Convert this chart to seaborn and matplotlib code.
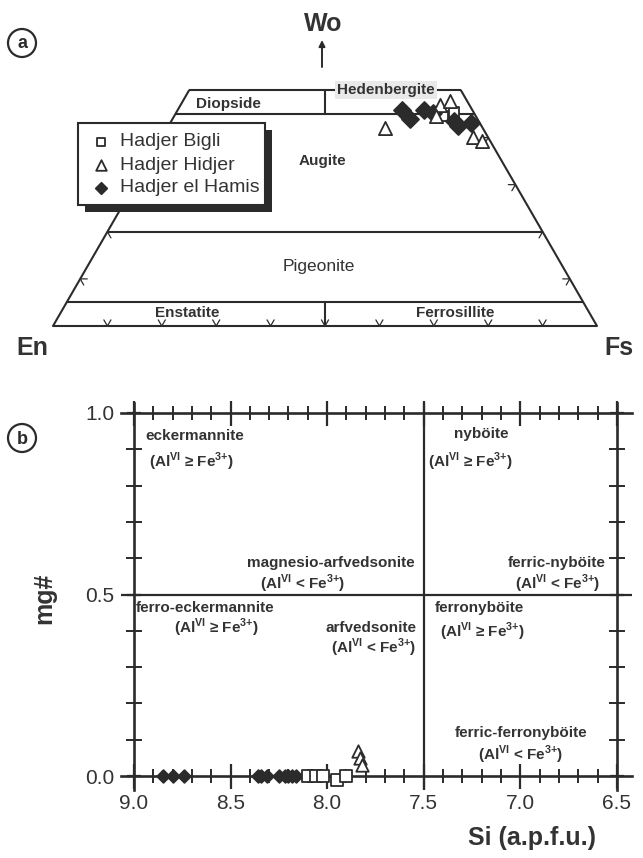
import numpy as np
import pandas as pd
import matplotlib
matplotlib.use("Agg")
import matplotlib.pyplot as plt
from matplotlib.patches import Rectangle, Ellipse
from matplotlib.ticker import MultipleLocator, FixedLocator, FormatStrFormatter
import seaborn as sns

# ---------------- data ----------------
localities = ["Hadjer Bigli", "Hadjer Hidjer", "Hadjer el Hamis"]

# clinopyroxene end-member proportions (mol %), En = 100 - Wo - Fs
px_bigli_wo = [45.4, 44.6]
px_bigli_fs = [51.0, 49.4]
px_hidjer_wo = [42.0, 46.9, 47.8, 44.6, 40.1, 39.3]
px_hidjer_fs = [40.0, 47.7, 49.1, 48.1, 57.2, 59.2]
px_hamis_wo = [45.85, 43.9, 45.85, 45.2, 43.5, 42.45, 43.1]
px_hamis_fs = [41.2, 43.7, 45.3, 47.2, 52.0, 53.2, 55.3]

# amphibole Si (a.p.f.u.) and mg#
am_bigli_si = [8.10, 8.06, 8.02, 7.95, 7.90]
am_bigli_mg = [0.0, 0.0, 0.0, -0.01, 0.0]
am_hidjer_si = [7.84, 7.83, 7.82]
am_hidjer_mg = [0.07, 0.05, 0.03]
am_hamis_si = [8.85, 8.80, 8.74, 8.36, 8.34, 8.31, 8.25, 8.22, 8.20, 8.18, 8.16]
am_hamis_mg = [0.0, 0.0, 0.0, 0.0, 0.0, 0.0, 0.0, 0.0, 0.0, 0.0, 0.0]

# pyroxene field boundaries (Wo %) and tick positions
wo_lines = [0, 5, 20, 45, 50]
base_ticks = [10, 20, 30, 40, 50, 60, 70, 80, 90]
side_ticks = [10, 20, 30, 40]

# amphibole axis ticks
si_ticks = [9.0, 8.5, 8.0, 7.5, 7.0, 6.5]
mg_ticks = [0.0, 0.5, 1.0]

# ---------------- style ----------------
sns.set_theme(style="white")
plt.rcParams["font.family"] = ["Liberation Sans", "DejaVu Sans"]
plt.rcParams["mathtext.fontset"] = "custom"
plt.rcParams["mathtext.rm"] = "Liberation Sans"
plt.rcParams["mathtext.bf"] = "Liberation Sans:bold"
INK = "#2b2b2b"
TXT = "#333333"
NARROW = ["Liberation Sans Narrow", "Liberation Sans"]

STY = {
    "Hadjer Bigli": dict(marker="s", fc="white"),
    "Hadjer Hidjer": dict(marker="^", fc="white"),
    "Hadjer el Hamis": dict(marker="D", fc=INK),
}
SIZE_T = {"Hadjer Bigli": 50, "Hadjer Hidjer": 90, "Hadjer el Hamis": 75}
SIZE_B = {"Hadjer Bigli": 70, "Hadjer Hidjer": 80, "Hadjer el Hamis": 42}

FW, FH = 643, 858
fig = plt.figure(figsize=(FW / 100, FH / 100), dpi=100)

# ---------------- (a) pyroxene quadrilateral ----------------
S = 5.44  # pixels per composition unit
X0, YB = 53, 326
axt = fig.add_axes([0, 480 / FH, 1, 378 / FH])
axt.set_xlim(-X0 / S, (FW - X0) / S)
axt.set_ylim((480 - (FH - YB)) / S, (FH - (FH - YB)) / S)
axt.axis("off")

R3 = np.sqrt(3) / 2


def tern(wo, fs):
    wo = np.asarray(wo, float)
    fs = np.asarray(fs, float)
    return fs + wo / 2, wo * R3


def P(px, py):
    return (px - X0) / S, (YB - py) / S


lw = 1.5
# horizontal Wo boundaries
for w in wo_lines:
    axt.plot([w / 2, 100 - w / 2], [w * R3, w * R3], color=INK, lw=lw, solid_capstyle="butt", zorder=2)
# sides
axt.plot([0, 25], [0, 50 * R3], color=INK, lw=lw, zorder=2)
axt.plot([100, 75], [0, 50 * R3], color=INK, lw=lw, zorder=2)
# En = Fs dividers
axt.plot([50, 50], [45 * R3, 50 * R3], color=INK, lw=lw, zorder=2)
axt.plot([50, 50], [0, 5 * R3], color=INK, lw=lw, zorder=2)

# small chevron ticks
tl = 1.3
for t in base_ticks:
    axt.plot([t - tl * 0.5, t, t + tl * 0.5], [tl * R3, 0, tl * R3], color=INK, lw=0.9, zorder=2)
for w in side_ticks:
    xr, yr = 100 - w / 2, w * R3
    axt.plot([xr - tl, xr, xr - tl * 0.5], [yr, yr, yr - tl * R3], color=INK, lw=0.9, zorder=2)
    xl, yl = w / 2, w * R3
    axt.plot([xl + tl, xl, xl + tl * 0.5], [yl, yl, yl - tl * R3], color=INK, lw=0.9, zorder=2)

# field names
bold_kw = dict(fontsize=11, fontweight="bold", color=TXT, ha="center", va="center")
axt.text(*P(228, 104), "Diopside", **bold_kw, zorder=3)
axt.text(*P(386, 90), "Hedenbergite", **bold_kw, zorder=3,
         bbox=dict(boxstyle="square,pad=0.12", fc="#e9e9e9", ec="none"))
axt.text(*P(322, 161), "Augite", **bold_kw, zorder=3)
axt.text(*P(319, 266), "Pigeonite", fontsize=12.5, color=TXT, ha="center", va="center", zorder=3)
axt.text(*P(187, 313), "Enstatite", **bold_kw, zorder=3)
axt.text(*P(455, 313), "Ferrosillite", **bold_kw, zorder=3)

# apices
axt.text(*P(323, 24), "Wo", fontsize=18, fontweight="bold", color=TXT, ha="center", va="center")
axt.text(*P(32, 348), "En", fontsize=18, fontweight="bold", color=TXT, ha="center", va="center")
axt.text(*P(619, 348), "Fs", fontsize=18, fontweight="bold", color=TXT, ha="center", va="center")
axt.annotate("", xy=P(322, 40), xytext=P(322, 67),
             arrowprops=dict(arrowstyle="-|>", color=INK, lw=1.4, mutation_scale=9, shrinkA=0, shrinkB=0))

# data points
px_df = pd.concat([
    pd.DataFrame({"locality": "Hadjer Bigli", "Wo": px_bigli_wo, "Fs": px_bigli_fs}),
    pd.DataFrame({"locality": "Hadjer Hidjer", "Wo": px_hidjer_wo, "Fs": px_hidjer_fs}),
    pd.DataFrame({"locality": "Hadjer el Hamis", "Wo": px_hamis_wo, "Fs": px_hamis_fs}),
], ignore_index=True)
px_df["En"] = 100 - px_df["Wo"] - px_df["Fs"]
px_df["tx"], px_df["ty"] = tern(px_df["Wo"], px_df["Fs"])

for name in ["Hadjer Bigli", "Hadjer el Hamis", "Hadjer Hidjer"]:
    sub = px_df[px_df["locality"] == name]
    sns.scatterplot(data=sub, x="tx", y="ty", marker=STY[name]["marker"], color=STY[name]["fc"],
                    edgecolor=INK, linewidth=1.3, s=SIZE_T[name], ax=axt, legend=False, zorder=6)

# legend box with drop shadow
lx0, ly0 = P(78, 205)
lx1, ly1 = P(265, 123)
sh = 7 / S
axt.add_patch(Rectangle((lx0 + sh, ly0 - sh), lx1 - lx0, ly1 - ly0, fc=INK, ec=INK, lw=0, zorder=7))
axt.add_patch(Rectangle((lx0, ly0), lx1 - lx0, ly1 - ly0, fc="white", ec=INK, lw=1.5, zorder=8))
leg_size = {"Hadjer Bigli": 32, "Hadjer Hidjer": 58, "Hadjer el Hamis": 34}
for i, name in enumerate(localities):
    yy = [142, 165, 188][i]
    mx, my = P(101, yy)
    axt.scatter([mx], [my], marker=STY[name]["marker"], c=STY[name]["fc"], edgecolors=INK,
                linewidths=1.3, s=leg_size[name], zorder=9)
    tx, ty = P(120, yy)
    axt.text(tx, ty, name, family=NARROW, fontsize=14, color=TXT, ha="left", va="center", zorder=9)

# ---------------- (b) amphibole Si vs mg# ----------------
axb = fig.add_axes([121 / FW, (FH - 790) / FH, 511 / FW, 387 / FH])
axb.set_xlim(9.067, 6.422)
axb.set_ylim(-0.0385, 1.0275)
axb.spines["left"].set_position(("data", 9.0))
axb.spines["right"].set_position(("data", 6.5))
axb.spines["bottom"].set_position(("data", 0.0))
axb.spines["top"].set_position(("data", 1.0))
for sp in axb.spines.values():
    sp.set_visible(True)
    sp.set_color(INK)
    sp.set_linewidth(1.9)
axb.axhline(0.5, color=INK, lw=1.6, zorder=1)
axb.axvline(7.5, color=INK, lw=1.6, zorder=1)

axb.xaxis.set_major_locator(FixedLocator(si_ticks))
axb.xaxis.set_minor_locator(MultipleLocator(0.1))
axb.xaxis.set_major_formatter(FormatStrFormatter("%.1f"))
axb.yaxis.set_major_locator(FixedLocator(mg_ticks))
axb.yaxis.set_minor_locator(MultipleLocator(0.1))
axb.yaxis.set_major_formatter(FormatStrFormatter("%.1f"))
axb.tick_params(axis="x", which="major", direction="inout", length=18, width=1.6, color=INK,
                top=True, bottom=True, labelsize=15, labelcolor=TXT, pad=4)
axb.tick_params(axis="x", which="minor", direction="inout", length=10, width=1.4, color=INK,
                top=True, bottom=True)
axb.tick_params(axis="y", which="major", direction="inout", length=10, width=1.6, color=INK,
                left=True, right=True, labelsize=15, labelcolor=TXT, pad=9)
axb.tick_params(axis="y", which="minor", direction="inout", length=11, width=1.4, color=INK,
                left=True, right=True)

am_df = pd.concat([
    pd.DataFrame({"locality": "Hadjer el Hamis", "Si": am_hamis_si, "mg": am_hamis_mg}),
    pd.DataFrame({"locality": "Hadjer Bigli", "Si": am_bigli_si, "mg": am_bigli_mg}),
    pd.DataFrame({"locality": "Hadjer Hidjer", "Si": am_hidjer_si, "mg": am_hidjer_mg}),
], ignore_index=True)
for name in ["Hadjer el Hamis", "Hadjer Bigli", "Hadjer Hidjer"]:
    sub = am_df[am_df["locality"] == name]
    sns.scatterplot(data=sub, x="Si", y="mg", marker=STY[name]["marker"], color=STY[name]["fc"],
                    edgecolor=INK, linewidth=1.3, s=SIZE_B[name], ax=axb, legend=False, zorder=6,
                    clip_on=False)
axb.set_xlabel("")
axb.set_ylabel("")

GE = "(Al$^{\\bf VI}$ ≥ Fe$^{\\bf 3{+}}$)"
LT = "(Al$^{\\bf VI}$ < Fe$^{\\bf 3{+}}$)"
lab = dict(fontsize=11, fontweight="bold", color=TXT, va="center")
axb.text(8.943, 0.937, "eckermannite", ha="left", **lab)
axb.text(8.92, 0.865, GE, ha="left", **lab)
axb.text(7.20, 0.942, "nyböite", ha="center", **lab)
axb.text(7.478, 0.865, GE, ha="left", **lab)
axb.text(7.546, 0.588, "magnesio-arfvedsonite", ha="right", **lab)
axb.text(8.125, 0.530, LT, ha="center", **lab)
axb.text(6.557, 0.588, "ferric-nyböite", ha="right", **lab)
axb.text(6.588, 0.530, LT, ha="right", **lab)
axb.text(8.99, 0.464, "ferro-eckermannite", ha="left", **lab)
axb.text(8.575, 0.407, GE, ha="center", **lab)
axb.text(7.54, 0.409, "arfvedsonite", ha="right", **lab)
axb.text(7.54, 0.352, LT, ha="right", **lab)
axb.text(7.442, 0.464, "ferronyböite", ha="left", **lab)
axb.text(7.416, 0.396, GE, ha="left", **lab)
axb.text(6.997, 0.118, "ferric-ferronyböite", ha="center", **lab)
axb.text(7.0, 0.058, LT, ha="center", **lab)

fig.text(532 / FW, 1 - 838 / FH, "Si (a.p.f.u.)", fontsize=18, fontweight="bold", color=TXT,
         ha="center", va="center")
fig.text(44 / FW, 1 - 598 / FH, "mg#", fontsize=18, fontweight="bold", color=TXT,
         ha="center", va="center", rotation=90)

# panel letters in circles
for letter, (cx, cy) in [("a", (22, 43)), ("b", (22, 438))]:
    fig.patches.append(Ellipse((cx / FW, 1 - cy / FH), 28 / FW, 28 / FH, transform=fig.transFigure,
                               fill=False, ec=INK, lw=1.6))
    fig.text(cx / FW, 1 - (cy + 1) / FH, letter, family=NARROW, fontsize=13, fontweight="bold",
             color=INK, ha="center", va="center")

fig.savefig("out.png", dpi=100, facecolor="white")
